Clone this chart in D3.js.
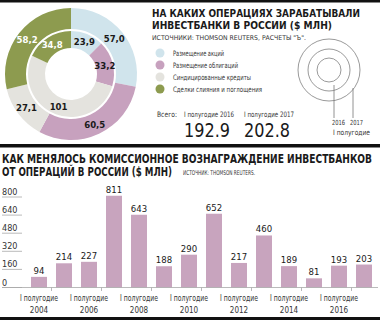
<!DOCTYPE html>
<html>
<head>
<meta charset="utf-8">
<script src="https://cdn.jsdelivr.net/npm/d3@7"></script>
<style>
  body { margin: 0; background: #fff; }
  svg { display: block; }
  text {
    font-family: "Liberation Sans Narrow", "DejaVu Sans Condensed", "Liberation Sans", "DejaVu Sans", sans-serif;
    font-stretch: condensed;
    fill: #1a1a1a;
  }
</style>
</head>
<body>
<div id="chart"></div>
<script>
// Data
const segments = ["Размещение акций", "Размещение облигаций", "Синдицированные кредиты", "Сделки слияния и поглощения"];
const segmentColors = ["#d0e4ec", "#c7a1be", "#e4e3de", "#8d9b4f"];
const values2016 = [23.9, 33.2, 101, 34.8];
const values2017 = [57.0, 60.5, 27.1, 58.2];
const periodLabels = ["I полугодие 2016", "I полугодие 2017"];

const years = [2004, 2005, 2006, 2007, 2008, 2009, 2010, 2011, 2012, 2013, 2014, 2015, 2016, 2017];
const fees = [94, 214, 227, 811, 643, 188, 290, 652, 217, 460, 189, 81, 193, 203];
const yTicks = [0, 160, 320, 480, 640, 800];

const WIDTH = 380;
const HEIGHT = 320;
const BAR_COLOR = "#c8a4be";

const svg = d3.select("#chart").append("svg")
  .attr("width", WIDTH)
  .attr("height", HEIGHT);

// format numbers the russian way
const fmt = (v) => (v >= 100 ? String(v) : d3.format(".1f")(v).replace(".", ","));

// black rules
svg.append("rect").attr("x", 0).attr("y", 0).attr("width", WIDTH).attr("height", 2.5).attr("fill", "#111");
svg.append("rect").attr("x", 0).attr("y", 144).attr("width", WIDTH).attr("height", 3.5).attr("fill", "#111");
svg.append("rect").attr("x", 0).attr("y", 317).attr("width", WIDTH).attr("height", 3).attr("fill", "#111");

// ---------- donut ----------
const donut = svg.append("g").attr("transform", "translate(71,74)");
const pie = d3.pie().sort(null).value((d) => d);

const rings = [
  { values: values2016, inner: 26, outer: 43, labelR: 35 },
  { values: values2017, inner: 45, outer: 66, labelR: 56 },
];

rings.forEach((ring) => {
  const arc = d3.arc().innerRadius(ring.inner).outerRadius(ring.outer);
  const labelArc = d3.arc().innerRadius(ring.labelR).outerRadius(ring.labelR);
  const arcs = pie(ring.values);

  donut.append("g").selectAll("path")
    .data(arcs)
    .join("path")
    .attr("d", arc)
    .attr("fill", (d, i) => segmentColors[i]);

  donut.append("g").selectAll("text")
    .data(arcs)
    .join("text")
    .attr("transform", (d) => `translate(${labelArc.centroid(d)})`)
    .attr("text-anchor", "middle")
    .attr("dy", "0.35em")
    .style("font-size", "9.5px")
    .style("font-weight", "bold")
    .style("fill", (d, i) => (i === 3 ? "#fff" : "#1a1a1a"))
    .text((d) => fmt(d.data));
});

// ---------- top title ----------
svg.append("text").attr("x", 152).attr("y", 17)
  .attr("textLength", 208).attr("lengthAdjust", "spacingAndGlyphs")
  .style("font-size", "11px").style("font-weight", "bold")
  .text("НА КАКИХ ОПЕРАЦИЯХ ЗАРАБАТЫВАЛИ");
svg.append("text").attr("x", 152).attr("y", 28.5)
  .attr("textLength", 180).attr("lengthAdjust", "spacingAndGlyphs")
  .style("font-size", "11px").style("font-weight", "bold")
  .text("ИНВЕСТБАНКИ В РОССИИ ($ МЛН)");
svg.append("text").attr("x", 152).attr("y", 39.5)
  .attr("textLength", 154).attr("lengthAdjust", "spacingAndGlyphs")
  .style("font-size", "6.5px").style("fill", "#333")
  .text("ИСТОЧНИКИ: THOMSON REUTERS, РАСЧЕТЫ \"Ъ\".");

// legend
const legendWidths = [51, 65, 78, 89];
const legend = svg.append("g").selectAll("g")
  .data(segments)
  .join("g")
  .attr("transform", (d, i) => `translate(160,${53 + i * 12})`);

legend.append("circle")
  .attr("r", 4.5)
  .attr("fill", (d, i) => segmentColors[i]);

legend.append("text")
  .attr("x", 13)
  .attr("dy", "0.35em")
  .attr("textLength", (d, i) => legendWidths[i])
  .attr("lengthAdjust", "spacingAndGlyphs")
  .style("font-size", "7.5px")
  .style("fill", "#333")
  .text((d) => d);

// totals
svg.append("text").attr("x", 157).attr("y", 117)
  .attr("textLength", 20).attr("lengthAdjust", "spacingAndGlyphs")
  .style("font-size", "7.5px").style("fill", "#333").text("Всего:");

const totals = [d3.sum(values2016), d3.sum(values2017)];
const totalsG = svg.append("g").selectAll("g")
  .data(totals)
  .join("g")
  .attr("transform", (d, i) => `translate(${184 + i * 60},0)`);

totalsG.append("text").attr("y", 117)
  .attr("textLength", 50).attr("lengthAdjust", "spacingAndGlyphs")
  .style("font-size", "7.5px").style("fill", "#333")
  .text((d, i) => periodLabels[i]);

totalsG.append("text").attr("y", 137)
  .attr("textLength", 46).attr("lengthAdjust", "spacingAndGlyphs")
  .style("font-size", "19px")
  .text((d) => fmt(+d.toFixed(1)));

// ring key
const key = svg.append("g").attr("transform", "translate(329,70)");
key.selectAll("circle")
  .data([31, 21, 12])
  .join("circle")
  .attr("r", (d) => d)
  .attr("fill", "none")
  .attr("stroke", "#9a9a9a")
  .attr("stroke-width", 1);

key.append("line").attr("x1", 5).attr("x2", 5).attr("y1", 15).attr("y2", 48)
  .attr("stroke", "#777").attr("stroke-width", 0.8);
key.append("line").attr("x1", 24).attr("x2", 24).attr("y1", 18).attr("y2", 48)
  .attr("stroke", "#777").attr("stroke-width", 0.8);

svg.append("text").attr("x", 332).attr("y", 125)
  .attr("textLength", 13).attr("lengthAdjust", "spacingAndGlyphs")
  .style("font-size", "7px").style("fill", "#333").text("2016");
svg.append("text").attr("x", 350).attr("y", 125)
  .attr("textLength", 13).attr("lengthAdjust", "spacingAndGlyphs")
  .style("font-size", "7px").style("fill", "#333").text("2017");
svg.append("text").attr("x", 333).attr("y", 135)
  .attr("textLength", 37).attr("lengthAdjust", "spacingAndGlyphs")
  .style("font-size", "7.5px").style("fill", "#333").text("I полугодие");

// ---------- bottom title ----------
svg.append("text").attr("x", 2).attr("y", 163)
  .attr("textLength", 370).attr("lengthAdjust", "spacingAndGlyphs")
  .style("font-size", "12px").style("font-weight", "bold")
  .text("КАК МЕНЯЛОСЬ КОМИССИОННОЕ ВОЗНАГРАЖДЕНИЕ ИНВЕСТБАНКОВ");
svg.append("text").attr("x", 2).attr("y", 175.5)
  .attr("textLength", 170).attr("lengthAdjust", "spacingAndGlyphs")
  .style("font-size", "12px").style("font-weight", "bold")
  .text("ОТ ОПЕРАЦИЙ В РОССИИ ($ МЛН)");
svg.append("text").attr("x", 183).attr("y", 175)
  .attr("textLength", 72).attr("lengthAdjust", "spacingAndGlyphs")
  .style("font-size", "6.5px").style("fill", "#333")
  .text("ИСТОЧНИК: THOMSON REUTERS.");

// ---------- bar chart ----------
const x = d3.scaleBand()
  .domain(years)
  .range([26.5, 376.5])
  .paddingInner(0.36)
  .paddingOuter(0.18);

const y = d3.scaleLinear()
  .domain([0, 800])
  .range([287.5, 197]);

// short grid lines with labels sitting on them
const grid = svg.append("g").selectAll("g")
  .data(yTicks)
  .join("g")
  .attr("transform", (d) => `translate(0,${y(d)})`);

grid.append("line")
  .attr("x1", 2).attr("x2", 22)
  .attr("stroke", "#a8a8a8").attr("stroke-width", 0.8);

grid.append("text")
  .attr("x", 2).attr("y", -2)
  .style("font-size", "9px").style("fill", "#333")
  .text((d) => d);

svg.append("g").selectAll("rect")
  .data(fees)
  .join("rect")
  .attr("x", (d, i) => x(years[i]))
  .attr("y", (d) => y(d))
  .attr("width", x.bandwidth())
  .attr("height", (d) => y(0) - y(d))
  .attr("fill", BAR_COLOR);

svg.append("g").selectAll("text")
  .data(fees)
  .join("text")
  .attr("x", (d, i) => x(years[i]) + x.bandwidth() / 2)
  .attr("y", (d) => y(d) - 3)
  .attr("text-anchor", "middle")
  .style("font-size", "9.5px")
  .text((d) => d);

// baseline and ticks between year pairs
svg.append("line")
  .attr("x1", 2).attr("x2", WIDTH - 2)
  .attr("y1", y(0)).attr("y2", y(0))
  .attr("stroke", "#a8a8a8").attr("stroke-width", 0.8);

const labelYears = years.filter((d, i) => i % 2 === 0);

svg.append("g").selectAll("line")
  .data(labelYears)
  .join("line")
  .attr("x1", (d) => x(d) + x.step() - (x.step() - x.bandwidth()) / 2)
  .attr("x2", (d) => x(d) + x.step() - (x.step() - x.bandwidth()) / 2)
  .attr("y1", y(0)).attr("y2", y(0) + 3.5)
  .attr("stroke", "#a8a8a8").attr("stroke-width", 0.8);

const xLabels = svg.append("g").selectAll("g")
  .data(labelYears)
  .join("g")
  .attr("transform", (d) => `translate(${x(d) + x.bandwidth() / 2},0)`);

xLabels.append("text")
  .attr("y", 301)
  .attr("text-anchor", "middle")
  .attr("textLength", 38).attr("lengthAdjust", "spacingAndGlyphs")
  .style("font-size", "8px").style("fill", "#333")
  .text("I полугодие");

xLabels.append("text")
  .attr("y", 312.5)
  .attr("text-anchor", "middle")
  .style("font-size", "8px").style("fill", "#333")
  .text((d) => d);
</script>
</body>
</html>
